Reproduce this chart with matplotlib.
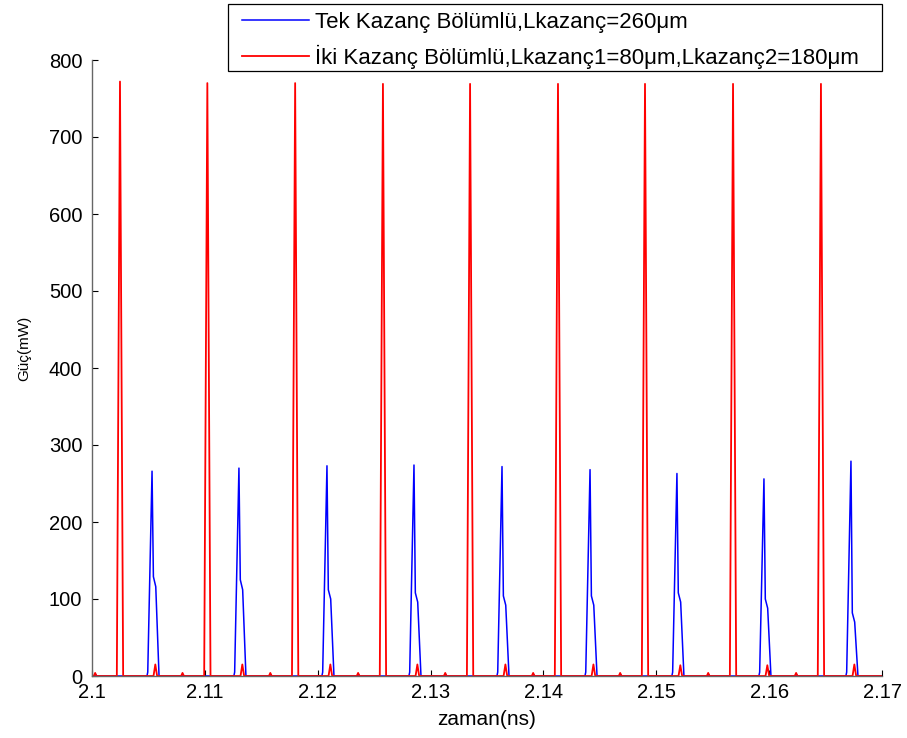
import numpy as np
import matplotlib
matplotlib.use("Agg")
import matplotlib.pyplot as plt
from matplotlib.patches import Rectangle

plt.rcParams['font.family'] = ['Liberation Sans', 'DejaVu Sans']

# big red pulses (two-section gain)
red_peak_t = [2.10248, 2.11022, 2.11800, 2.12578, 2.13350, 2.14129, 2.14900, 2.15680, 2.16459]
red_peak_p = [772, 770, 770, 769, 769, 769, 769, 769, 769]
# small red pulses next to the blue ones
red_small_t = [2.10561, 2.11332, 2.12112, 2.12883, 2.13663, 2.14443, 2.15213, 2.15984, 2.16755]
red_small_p = [15, 15, 15, 15, 15, 15, 14, 14, 15]
# tiny bumps between pulses
tiny_t = [2.10028, 2.10802, 2.11580, 2.12358, 2.13130, 2.13909, 2.14680, 2.15460, 2.16239]
tiny_red_p = [4, 4, 4, 4, 4, 4, 4, 4, 4]
tiny_blue_p = [2, 2, 2, 2, 2, 2, 2, 2, 2]

# blue pulses (single gain section)
blue_peak_t = [2.10532, 2.11302, 2.12082, 2.12853, 2.13633, 2.14413, 2.15183, 2.15954, 2.16725]
blue_peak_p = [266, 270, 273, 274, 272, 268, 263, 256, 279]
blue_knee1 = [129, 125, 112, 108, 104, 104, 108, 100, 82]
blue_knee2 = [116, 112, 100, 96, 92, 92, 96, 88, 70]
blue_foot = [5, 5, 5, 5, 5, 5, 5, 5, 5]

x_ticks = [2.1, 2.11, 2.12, 2.13, 2.14, 2.15, 2.16, 2.17]
x_tick_labels = ['2.1', '2.11', '2.12', '2.13', '2.14', '2.15', '2.16', '2.17']
y_ticks = [0, 100, 200, 300, 400, 500, 600, 700, 800]


def build(points):
    pts = sorted(points + [(2.1, 0.0), (2.17, 0.0)])
    t, v = zip(*pts)
    return np.array(t), np.array(v)


red_pts = []
for t, p in zip(red_peak_t, red_peak_p):
    red_pts += [(t - 0.00028, 0), (t, p), (t + 0.00028, 0)]
for t, p in zip(red_small_t, red_small_p):
    red_pts += [(t - 0.00016, 0), (t, p), (t + 0.00016, 0)]
for t, p in zip(tiny_t, tiny_red_p):
    red_pts += [(t - 0.00012, 0), (t, p), (t + 0.00012, 0)]

blue_pts = []
for t, p, k1, k2, f in zip(blue_peak_t, blue_peak_p, blue_knee1, blue_knee2, blue_foot):
    blue_pts += [(t - 0.00045, 0), (t - 0.00038, f), (t, p),
                 (t + 0.00012, k1), (t + 0.00033, k2), (t + 0.00062, 0)]
for t, p in zip(tiny_t, tiny_blue_p):
    blue_pts += [(t - 0.0001, 0), (t + 0.00003, p), (t + 0.00014, 0)]

bt, bv = build(blue_pts)
rt, rv = build(red_pts)

fig = plt.figure(figsize=(9.07, 7.38), dpi=100)
ax = fig.add_axes([92 / 907, 62 / 738, 790 / 907, 616 / 738])

l1, = ax.plot(bt, bv, color='#0000ff', lw=1.1)
l2, = ax.plot(rt, rv, color='#ff0000', lw=1.3)

ax.set_xlim(2.1, 2.17)
ax.set_ylim(0, 800)
ax.set_xticks(x_ticks)
ax.set_xticklabels(x_tick_labels)
ax.set_yticks(y_ticks)
ax.tick_params(direction='in', length=4, width=0.8, labelsize=14.5)
ax.tick_params(axis='y', pad=7)
ax.tick_params(axis='x', pad=5)
for s in ['top', 'right']:
    ax.spines[s].set_visible(False)
for s in ['left', 'bottom']:
    ax.spines[s].set_color('#666666')
    ax.spines[s].set_linewidth(1.0)

ax.set_xlabel('zaman(ns)', fontsize=15, labelpad=6)
ax.set_ylabel('Güç(mW)', fontsize=11)
ax.yaxis.set_label_coords(-0.077, 0.532)

# legend frame drawn in figure pixels
fig.add_artist(Rectangle((228 / 907, 1 - 71 / 738), 654 / 907, 67 / 738,
                         transform=fig.transFigure, facecolor='white',
                         edgecolor='black', lw=0.9))
fig.legend([l1, l2],
           ['Tek Kazanç Bölümlü,Lkazanç=260μm',
            'İki Kazanç Bölümlü,Lkazanç1=80μm,Lkazanç2=180μm'],
           loc='upper left', bbox_to_anchor=(242 / 907, 1 - 12 / 738),
           bbox_transform=fig.transFigure, frameon=False, fontsize=16,
           borderpad=0, borderaxespad=0, handlelength=3.0,
           handletextpad=0.3, labelspacing=0.52)

fig.savefig('out.png', dpi=100)
